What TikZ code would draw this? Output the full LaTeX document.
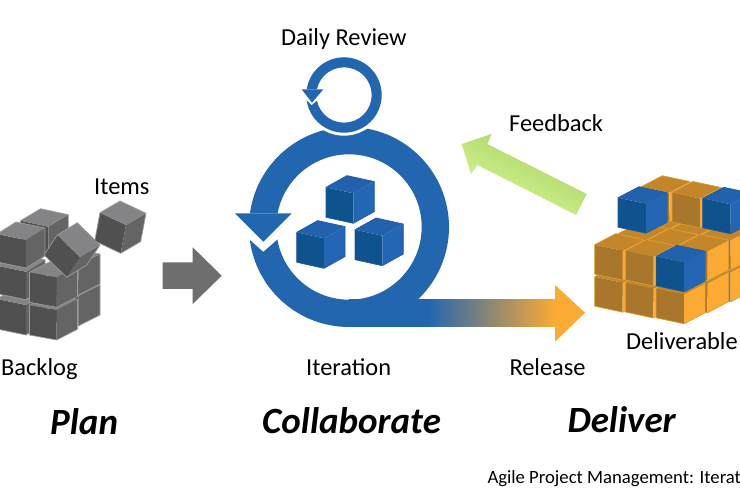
\documentclass[tikz,border=0pt]{standalone}
\usepackage{fontspec}
\setmainfont{Carlito}
\usetikzlibrary{calc}

\definecolor{ringblue}{HTML}{2366B0}
\definecolor{bluetop}{HTML}{2262AC}
\definecolor{blueleft}{HTML}{0E528E}
\definecolor{blueright}{HTML}{2366B4}
\definecolor{blueedge}{HTML}{1C5EA6}
\definecolor{orangetop}{HTML}{C4862B}
\definecolor{orangeleft}{HTML}{A9772C}
\definecolor{orangeright}{HTML}{FBAB33}
\definecolor{orangeedge}{HTML}{DE9C30}
\definecolor{greytop}{HTML}{848486}
\definecolor{greyleft}{HTML}{505050}
\definecolor{greyright}{HTML}{646464}
\definecolor{greyedge}{HTML}{9C9C9C}
\definecolor{arrowgrey}{HTML}{6E6E6E}
\definecolor{feeddark}{HTML}{A4D05C}
\definecolor{feedlight}{HTML}{DCF89C}

% cube: front vertex, a, b, h, colour prefix
\newcommand{\boxcube}[5]{
  \coordinate (c) at (#1);
  \fill[#5left] (c) -- ($(c)-(#2)$) -- ($(c)-(#2)+(#4)$) -- ($(c)+(#4)$) -- cycle;
  \fill[#5right] (c) -- ($(c)+(#3)$) -- ($(c)+(#3)+(#4)$) -- ($(c)+(#4)$) -- cycle;
  \fill[#5top] (c) -- ($(c)-(#2)$) -- ($(c)-(#2)+(#3)$) -- ($(c)+(#3)$) -- cycle;
  \draw[#5edge, line width=0.7pt, line join=round] ($(c)-(#2)$) -- ($(c)-(#2)+(#4)$) -- ($(c)+(#4)$)
    -- ($(c)+(#3)+(#4)$) -- ($(c)+(#3)$) -- ($(c)-(#2)+(#3)$) -- cycle;
}

\begin{document}
\begin{tikzpicture}[x=1pt,y=-1pt]
\tikzstyle{caption} = [inner sep=0, anchor=base west, font=\fontsize{24.4}{28}\selectfont]
\tikzstyle{phasename} = [inner sep=0, anchor=base west, font=\fontsize{37}{40}\selectfont\bfseries\itshape]
\clip (0,0) rectangle (740,500);

% --- Backlog cubes ---------------------------------------
\boxcube{48.3,226.7}{27.7,6}{20,-12}{0,28}{grey}
\foreach \y in {296,265} {
  \boxcube{78.3,\y}{27,5}{21.7,-11}{0,30}{grey}
}
\foreach \y/\h in {305/30, 271.7/28, 240/28} {
  \boxcube{26,\y}{29,6}{19,-12}{0,\h}{grey}
}
\foreach \y in {310,277.3} {
  \boxcube{56.7,\y}{27.3,5}{20.7,-10.7}{0,30}{grey}
}
% tilted and free cube
\boxcube{80,257.3}{22.7,22.3}{20,-12.3}{-13.3,20}{grey}
\boxcube{126,225}{26,12.3}{20,-11.7}{-5.3,28.3}{grey}

% --- Grey arrow ------------------------------------------
\fill[arrowgrey] (162.7,262.3) -- (192.7,262.3) -- (192.7,247.3) -- (221.7,275.7)
  -- (192.7,304) -- (192.7,289) -- (162.7,289) -- cycle;

% --- Big ring --------------------------------------------
\fill[ringblue, even odd rule] (349,227) circle (100) (349,227) circle (72.7);
\fill[white] (245,213.3) -- (240,231) -- (263.3,251.7) -- (285,232.7) -- (285,213.3) -- cycle;
\fill[ringblue] (235,213.3) -- (291.7,213.3) -- (263.3,241.7) -- cycle;

% --- Release arrow ---------------------------------------
\fill[ringblue] (349,299.3) rectangle (428.5,326.7);
\shade[left color=ringblue, right color=orangeright] (428,299.3) rectangle (555.5,326.7);
\fill[orangeright] (555,285) -- (585,312.7) -- (555,341.7) -- cycle;

% --- Small ring ------------------------------------------
\fill[white] (344,95) circle (40.7);
\fill[ringblue, even odd rule] (344,95) circle (37.7) (344,95) circle (27.7);
\fill[white] (304,89.3) -- (302,95.5) -- (311.7,105) -- (321,96.8) -- (321,89.3) -- cycle;
\fill[ringblue] (301.7,89.3) -- (323.3,89.3) -- (312,102.7) -- cycle;

% --- Iteration cubes -------------------------------------
\foreach \cx/\cy in {353.3/193.3, 324/238.3, 382.3/235.7} {
  \boxcube{\cx,\cy}{27.3,6}{21,-11.7}{0,30}{blue}
}

% --- Feedback arrow --------------------------------------
\shade[top color=feeddark, bottom color=feedlight, shading angle=-27]
  (461.7,144) -- (491.7,134) -- (487.3,144) -- (586.7,194) -- (576,215) -- (477.3,165) -- (471,174) -- cycle;

% --- Deliverable cubes -----------------------------------
\foreach \i/\j/\lift/\col in {
  0/2/0/orange, 1/2/0/orange, 2/2/0/orange,
  0/2/32/orange, 1/2/32/orange, 2/2/32/orange,
  0/2/68/orange, 1/2/68/orange, 2/2/68/blue,
  0/1/0/orange, 0/1/32/orange, 0/1/68/blue,
  1/1/0/orange, 1/1/32/orange, 2/1/0/orange, 2/1/32/orange,
  0/0/0/orange, 0/0/32/orange, 1/0/0/orange, 1/0/32/orange,
  2/0/0/orange, 2/0/32/blue} {
  \pgfmathsetmacro{\x}{622.7 + 30.7*\i + 23.3*\j}
  \pgfmathsetmacro{\y}{282.7 + 5.8*\i - 11*\j - \lift}
  \boxcube{\x,\y}{28,6}{21,-11}{0,29.5}{\col}
}

% --- Texts -----------------------------------------------
\node[caption] (dailyReview) at (281,45.3) {Daily Review};
\node[caption] (items) at (94,195) {Items};
\node[caption] (feedback) at (509,131.7) {Feedback};
\node[caption] (deliverable) at (626,349.3) {Deliverable};
\node[caption] (backlog) at (1,375.7) {Backlog};
\node[caption] (iteration) at (306,375.7) {Iteration};
\node[caption] (release) at (509.3,375.7) {Release};
\node[phasename] (plan) at (50,434) {Plan};
\node[phasename] (collaborate) at (262,433) {Collaborate};
\node[phasename] (deliver) at (567.3,432.3) {Deliver};
\node[inner sep=0, anchor=base west, font=\fontsize{18.7}{20}\selectfont] (source) at (487.3,483.3) {Agile Project Management: Iterat};

\end{tikzpicture}
\end{document}
